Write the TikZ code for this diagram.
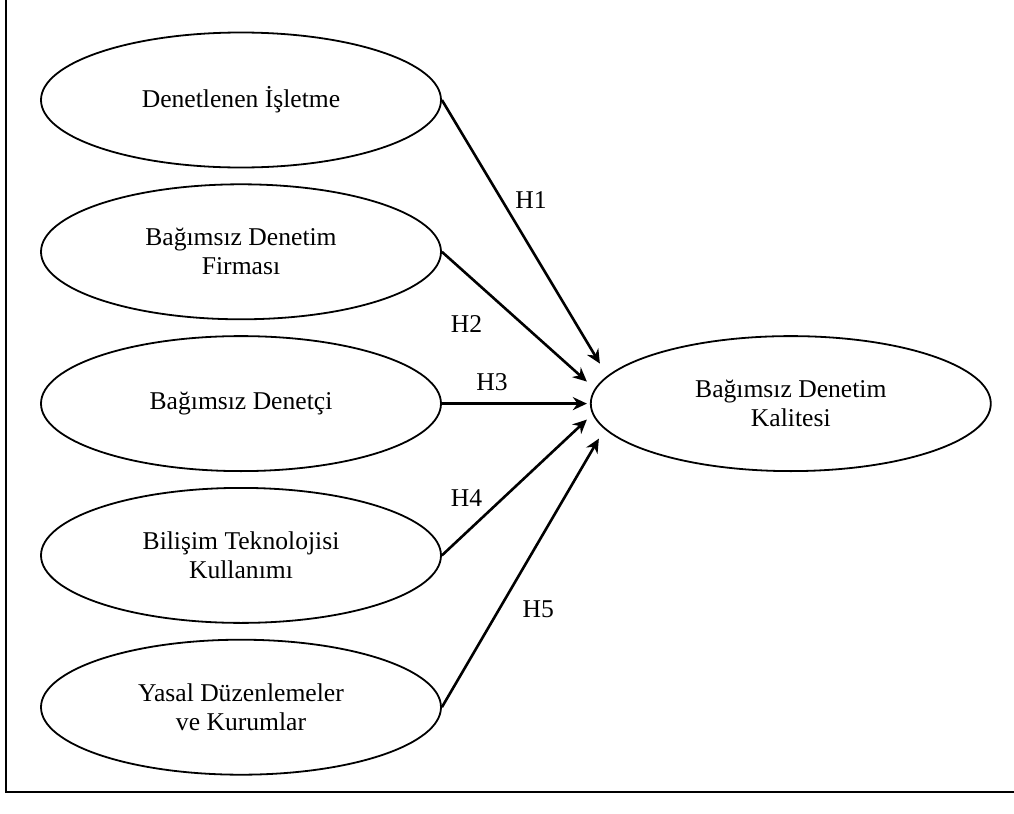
\documentclass[tikz,border=0pt]{standalone}
\usepackage{fontspec}
\setmainfont{Liberation Serif}
\usetikzlibrary{positioning,shapes.geometric,arrows.meta}

\begin{document}
\begin{tikzpicture}[
    x=0.5pt, y=-0.5pt,
    oval/.style={draw, ellipse, line width=0.9pt, minimum width=200pt, minimum height=67.5pt, inner sep=0pt, align=center, font=\fontsize{12.8}{14.5}\selectfont},
    arrow/.style={-{Stealth[length=7pt,width=6.5pt]}, line width=1.3pt},
    hyp/.style={font=\fontsize{12.8}{14.5}\selectfont},
]
    \useasboundingbox (0,0) rectangle (1014,814);
    \draw[line width=1pt] (6,0) -- (6,792) -- (1014,792);

    \node[oval] (isletme) at (241,100) {Denetlenen İşletme};
    \node[oval, below=7.5pt of isletme] (firma) {Bağımsız Denetim\\Firması};
    \node[oval, below=7.5pt of firma] (denetci) {Bağımsız Denetçi};
    \node[oval, below=7.5pt of denetci] (bilisim) {Bilişim Teknolojisi\\Kullanımı};
    \node[oval, below=7.5pt of bilisim] (yasal) {Yasal Düzenlemeler\\ve Kurumlar};
    \node[oval, right=74pt of denetci] (kalite) {Bağımsız Denetim\\Kalitesi};

    % arrow tips stop short of the oval
    \coordinate (t1) at ([shift={(10,-40)}]kalite.west);
    \coordinate (t2) at ([shift={(-3,-22)}]kalite.west);
    \coordinate (t3) at ([shift={(-3,0)}]kalite.west);
    \coordinate (t4) at ([shift={(-3,16)}]kalite.west);
    \coordinate (t5) at ([shift={(9,35)}]kalite.west);

    \draw[arrow] (isletme.east) -- node[hyp, pos=0.38, xshift=14.5pt] (h1) {H1} (t1);
    \draw[arrow] (firma.east) -- node[hyp, pos=0.17, yshift=-25.3pt] (h2) {H2} (t2);
    \draw[arrow] (denetci.east) -- node[hyp, pos=0.345, yshift=10.5pt] (h3) {H3} (t3);
    \draw[arrow] (bilisim.east) -- node[hyp, pos=0.17, yshift=17.2pt] (h4) {H4} (t4);
    \draw[arrow] (yasal.east) -- node[hyp, pos=0.366, xshift=19.4pt] (h5) {H5} (t5);
\end{tikzpicture}
\end{document}
